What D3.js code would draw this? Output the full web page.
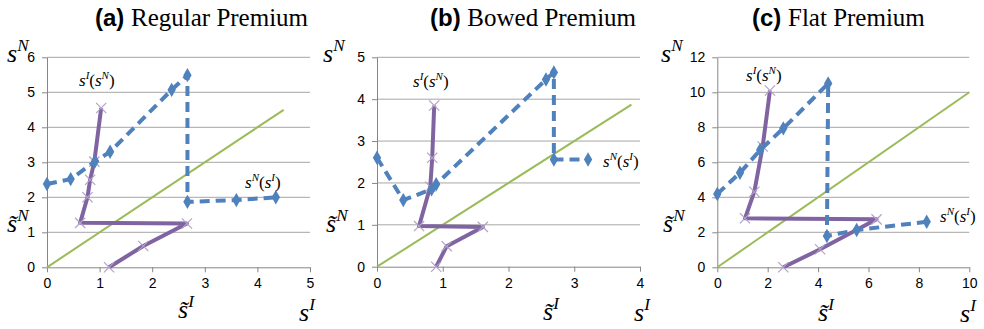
<!DOCTYPE html>
<html>
<head>
<meta charset="utf-8">
<script src="https://cdn.jsdelivr.net/npm/d3@7"></script>
<style>
  body { margin: 0; background: #fff; }
  svg { display: block; }
  .tick text { font-family: Arial, "Liberation Sans", sans-serif; font-size: 14px; fill: #000; }
  .var { font-family: "Liberation Serif", "Times New Roman", serif; font-style: italic; }
</style>
</head>
<body>
<svg id="chart" width="984" height="329"></svg>
<script>
// panel settings
const panelLetters = ["(a)", "(b)", "(c)"];
const panelNames = ["Regular Premium", "Bowed Premium", "Flat Premium"];
const xMax = [5, 4, 10];
const yMax = [6, 5, 12];
const tickStep = [1, 1, 2];

// s^I(s^N) : purple, x markers
const purpleA = [[1.03, 4.55], [0.9, 3.02], [0.82, 2.5], [0.77, 2.0], [0.63, 1.27], [2.66, 1.25], [1.83, 0.61], [1.18, 0]];
const purpleB = [[0.87, 3.85], [0.84, 2.6], [0.81, 1.91], [0.64, 0.97], [1.61, 0.95], [1.06, 0.49], [0.9, 0]];
const purpleC = [[2.09, 10.1], [1.8, 6.9], [1.47, 4.32], [1.1, 2.8], [6.32, 2.74], [4.08, 1.03], [2.62, 0]];

// s^N(s^I) : blue dashed, diamond markers
const blueA = [[0, 2.38], [0.45, 2.52], [0.91, 3.02], [1.2, 3.3], [2.37, 5.07], [2.67, 5.49], [2.67, 1.87], [3.6, 1.92], [4.35, 2.0]];
const blueB = [[0, 2.6], [0.4, 1.59], [0.83, 1.85], [0.9, 1.97], [2.57, 4.47], [2.69, 4.64], [2.69, 2.56], [3.21, 2.56]];
const blueC = [[0, 4.19], [0.9, 5.4], [1.7, 6.7], [2.62, 7.94], [4.4, 10.5], [4.35, 1.79], [5.53, 2.13], [8.31, 2.6]];

// 45 degree line
const greenA = [[0, 0], [4.5, 4.5]];
const greenB = [[0, 0], [3.87, 3.87]];
const greenC = [[0, 0], [10, 10]];

const purples = [purpleA, purpleB, purpleC];
const blues = [blueA, blueB, blueC];
const greens = [greenA, greenB, greenC];

// layout
const boxes = [
  {l: 47, r: 310, t: 57.3, b: 267.3, titleX: 95},
  {l: 377, r: 640, t: 57.3, b: 266.7, titleX: 430},
  {l: 717.3, r: 969.3, t: 57.3, b: 267.3, titleX: 752}
];
const labelPos = [
  {sN: [7, 62], stN: [7, 232], stI: [178, 318], sI: [299, 321], lblI: [79, 86], lblN: [245, 188]},
  {sN: [323, 62], stN: [326, 232], stI: [543, 320], sI: [634, 321], lblI: [413, 87], lblN: [603, 167]},
  {sN: [661, 62], stN: [663, 232], stI: [818, 321], sI: [960, 322], lblI: [746, 81], lblN: [940, 222]}
];

const svg = d3.select("#chart");

function varLabel(g, x, y, base, sup, size, tilde) {
  const t = g.append("text").attr("class", "var").attr("x", x).attr("y", y)
    .style("font-size", size + "px");
  t.append("tspan").text(tilde ? "s\u0303" : base);
  t.append("tspan").attr("dy", -size * 0.42).style("font-size", (size * 0.66) + "px").text(sup);
  return t;
}

function funcLabel(g, x, y, outer, inner) {
  const size = 17;
  const t = g.append("text").attr("class", "var").attr("x", x).attr("y", y).style("font-size", size + "px");
  t.append("tspan").text("s");
  t.append("tspan").attr("dy", -7).style("font-size", "11px").text(outer);
  t.append("tspan").attr("dy", 7).style("font-style", "normal").text("(");
  t.append("tspan").text("s");
  t.append("tspan").attr("dy", -7).style("font-size", "11px").text(inner);
  t.append("tspan").attr("dy", 7).style("font-style", "normal").text(")");
}

function drawPanel(i) {
  const box = boxes[i];
  const g = svg.append("g");

  const x = d3.scaleLinear().domain([0, xMax[i]]).range([box.l, box.r]);
  const y = d3.scaleLinear().domain([0, yMax[i]]).range([box.b, box.t]);
  const xt = d3.range(0, xMax[i] + 0.001, tickStep[i]);
  const yt = d3.range(0, yMax[i] + 0.001, tickStep[i]);

  // gridlines
  g.selectAll("line.grid").data(yt.slice(1)).enter().append("line")
    .attr("x1", box.l).attr("x2", box.r)
    .attr("y1", d => y(d)).attr("y2", d => y(d))
    .attr("stroke", "#a6a6a6").attr("stroke-width", 1);

  const xAxis = g.append("g").attr("transform", `translate(0,${box.b})`)
    .call(d3.axisBottom(x).tickValues(xt).tickFormat(d3.format("d")).tickSize(5).tickPadding(6).tickSizeOuter(0));
  const yAxis = g.append("g").attr("transform", `translate(${box.l},0)`)
    .call(d3.axisLeft(y).tickValues(yt).tickFormat(d3.format("d")).tickSize(5).tickPadding(7).tickSizeOuter(0));
  [xAxis, yAxis].forEach(a => {
    a.select(".domain").attr("stroke", "#868686");
    a.selectAll(".tick line").attr("stroke", "#868686");
  });

  const line = d3.line().x(d => x(d[0])).y(d => y(d[1]));

  g.append("path").datum(greens[i]).attr("d", line)
    .attr("fill", "none").attr("stroke", "#9bbb59").attr("stroke-width", 2);

  g.append("path").datum(purples[i]).attr("d", line)
    .attr("fill", "none").attr("stroke", "#8064a2").attr("stroke-width", 4)
    .attr("stroke-linejoin", "round");
  g.selectAll("path.xm").data(purples[i]).enter().append("path")
    .attr("d", d3.symbol(d3.symbolX, 70)())
    .attr("transform", d => `translate(${x(d[0])},${y(d[1])})`)
    .attr("fill", "none").attr("stroke", "#b3a2c7").attr("stroke-width", 1.2);

  g.append("path").datum(blues[i]).attr("d", line)
    .attr("fill", "none").attr("stroke", "#4f81bd").attr("stroke-width", 4)
    .attr("stroke-dasharray", "10,6").attr("stroke-linejoin", "round");
  g.selectAll("path.dm").data(blues[i]).enter().append("path")
    .attr("d", d3.symbol(d3.symbolDiamond, 60)())
    .attr("transform", d => `translate(${x(d[0])},${y(d[1])})`)
    .attr("fill", "#4f81bd");

  // title
  const title = g.append("text").attr("x", box.titleX).attr("y", 26);
  title.append("tspan").style("font-family", "Arial, 'Liberation Sans', sans-serif")
    .style("font-weight", "bold").style("font-size", "24px").text(panelLetters[i] + " ");
  title.append("tspan").style("font-family", "'Liberation Serif', 'Times New Roman', serif")
    .style("font-size", "25px").text(panelNames[i]);

  const lp = labelPos[i];
  varLabel(g, lp.sN[0], lp.sN[1], "s", "N", 26, false);
  varLabel(g, lp.stN[0], lp.stN[1], "s", "N", 26, true);
  varLabel(g, lp.stI[0], lp.stI[1], "s", "I", 26, true);
  varLabel(g, lp.sI[0], lp.sI[1], "s", "I", 26, false);
  funcLabel(g, lp.lblI[0], lp.lblI[1], "I", "N");
  funcLabel(g, lp.lblN[0], lp.lblN[1], "N", "I");
}

[0, 1, 2].forEach(drawPanel);
</script>
</body>
</html>
